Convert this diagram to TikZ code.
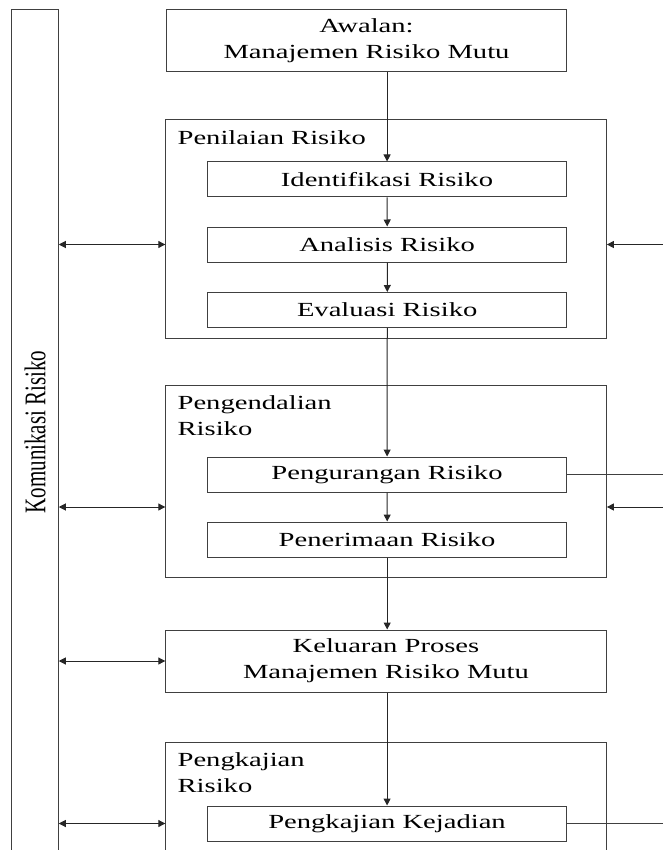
\documentclass[tikz,border=0pt]{standalone}
\usepackage{fontspec}
\setmainfont{Liberation Serif}
\usepackage{tikz}
\usetikzlibrary{arrows.meta,positioning,calc}
\tikzset{
  box/.style={draw=black!75,line width=1pt,align=center,inner sep=0pt,
              font=\fontsize{20}{26}\selectfont,text=black},
  ibox/.style={box,minimum width=251pt,minimum height=35pt},
  wbox/.style={box,minimum width=307.7pt,minimum height=62pt},
  grp/.style={box,minimum width=307.7pt},
  glabel/.style={anchor=north west,align=left,inner xsep=8.4pt,inner ysep=11pt,
                 font=\fontsize{20}{26}\selectfont,text=black},
  arr/.style={-{Triangle[length=7pt,width=7pt]},draw=black!85,line width=1pt},
  darr/.style={{Triangle[length=7pt,width=7pt]}-{Triangle[length=7pt,width=7pt]},
               draw=black!85,line width=1pt},
  ln/.style={draw=black!75,line width=1pt},
}
\begin{document}
\begin{tikzpicture}[x=0.6993pt,y=-1pt,xscale=1.43,transform shape]
\path[use as bounding box] (0,0) rectangle (663,850);
\clip (0,0) rectangle (663,850);
\coordinate (tepi) at (663,0);

\node[box,minimum width=280.4pt,minimum height=62pt] (awal) at (366.5,41)
  {Awalan:\\Manajemen Risiko Mutu};

\node[grp,minimum height=218pt] (nilai) at (386,229) {};
\node[glabel] (nilaiT) at (nilai.north west) {Penilaian Risiko};
\node[ibox] (ident) at (387,179.5) {Identifikasi Risiko};
\node[ibox,below=29pt of ident] (anls) {Analisis Risiko};
\node[ibox,below=29.5pt of anls] (eval) {Evaluasi Risiko};

\node[grp,minimum height=192pt] (kendali) at (386,481) {};
\node[glabel] (kendaliT) at (kendali.north west) {Pengendalian\\Risiko};
\node[ibox] (kurang) at (387,474.5) {Pengurangan Risiko};
\node[ibox,below=29pt of kurang] (terima) {Penerimaan Risiko};
\coordinate (kmid) at ($(kurang.south)!0.5!(terima.north)$);

\node[wbox] (keluar) at (386,661) {Keluaran Proses\\Manajemen Risiko Mutu};

\node[grp,minimum height=130pt] (kaji) at (386,807) {};
\node[glabel] (kajiT) at (kaji.north west) {Pengkajian\\Risiko};
\node[ibox] (kejadian) at (387,823.5) {Pengkajian Kejadian};

\node[box,rotate=90,minimum width=844pt,minimum height=32.2pt,
      font=\fontsize{21}{25}\selectfont] (kom) at (35,432) {Komunikasi Risiko};

\draw[arr] (awal.south -| ident.north) -- (ident.north);
\draw[arr] (ident) -- (anls);
\draw[arr] (anls) -- (eval);
\draw[arr] (eval) -- (kurang);
\draw[arr] (kurang) -- (terima);
\draw[arr] (terima.south) -- (terima.south |- keluar.north);
\draw[arr] (keluar.south -| kejadian.north) -- (kejadian.north);

\draw[darr] (kom.south |- anls) -- (nilai.west |- anls);
\draw[darr] (kom.south |- kmid) -- (kendali.west |- kmid);
\draw[darr] (kom.south |- keluar) -- (keluar.west);
\draw[darr] (kom.south |- kejadian) -- (kaji.west |- kejadian);

\draw[arr] (tepi |- anls) -- (nilai.east |- anls);
\draw[arr] (tepi |- kmid) -- (kendali.east |- kmid);
\draw[ln] (kurang.east) -- (kurang.east -| tepi);
\draw[ln] (kejadian.east) -- (kejadian.east -| tepi);
\end{tikzpicture}
\end{document}
